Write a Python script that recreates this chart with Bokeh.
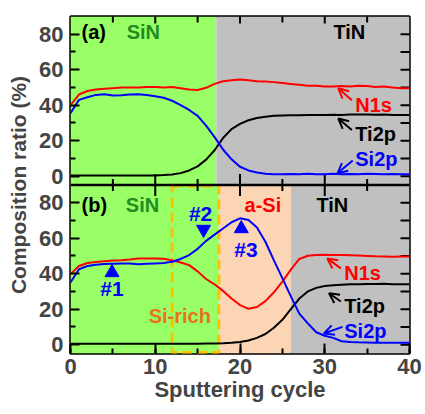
import math
from bokeh.plotting import figure
from bokeh.models import FixedTicker, SingleIntervalTicker, Range1d, Arrow, OpenHead, Span
from bokeh.core.properties import value
from bokeh.embed import file_html
from bokeh.resources import INLINE

FONT = "Liberation Sans"

# ---------------- data ----------------
cycles = list(range(41))

a_n1s = [40, 46, 48, 48.8, 49.2, 49.6, 50, 50, 50, 50.2, 50.3, 50, 50.2, 49.5, 48.8, 48.6, 49.8,
         52, 53.5, 54, 54.5, 54, 53.5, 53.3, 53, 52.5, 52, 51.5, 51, 51, 50.5, 50.5, 50.8, 50.5,
         51, 50.8, 50.2, 50.5, 50, 49.6, 49.5]
a_si2p = [35.5, 43, 44.5, 45.8, 46.2, 45.5, 45.6, 46, 46.2, 45.8, 45, 44.2, 42.5, 40, 37.3, 34,
          28.5, 22, 15, 9.5, 5.3, 3.2, 2.0, 1.4, 1.1, 1.0, 1.2, 1.0, 1.3, 1.0, 1.1, 1.3, 1.0, 1.2,
          1.1, 1.4, 1.2, 1.0, 1.2, 1.0, 1.1]
a_ti2p = [0.3, 0.3, 0.3, 0.3, 0.3, 0.3, 0.3, 0.3, 0.3, 0.3, 0.4, 0.6, 0.9, 1.7, 3.2, 5.5, 9.3,
          14.6, 21.5, 26.5, 29.5, 31.5, 32.8, 33.5, 34, 34.2, 34.3, 34.3, 34.5, 34.5, 34.5, 34.6,
          34.5, 34.8, 34.8, 34.8, 34.6, 34.7, 34.5, 34.5, 34.5]

b_n1s = [39.8, 44.3, 46, 46.6, 47, 47.4, 47.6, 48, 48.5, 48.6, 48.6, 48.4, 47.5, 46.3, 44.8,
         41.3, 37, 34, 30.3, 26, 22.3, 20.2, 21.2, 24.5, 29.5, 35.5, 42.3, 48.3, 50.1, 50.5,
         50.7, 50.6, 50.5, 50.4, 50.2, 50, 49.8, 49.7, 49.6, 49.7, 49.7]
b_si2p = [35, 42.5, 44.3, 45, 45.4, 45.6, 45.8, 45.7, 45.3, 45.6, 45.8, 46, 46.7, 48.3, 50.5,
          54, 58.5, 62, 65.5, 69, 71.2, 70.3, 66, 58, 47.5, 37.5, 27.2, 17.5, 12, 7, 5, 3.8,
          1.9, 1.5, 1.3, 1.2, 1.1, 1.1, 1.0, 1.1, 1.1]
b_ti2p = [0.5, 0.5, 0.5, 0.5, 0.5, 0.5, 0.5, 0.5, 0.5, 0.5, 0.5, 0.5, 0.5, 0.5, 0.5, 0.5, 0.6,
          0.7, 0.8, 1.0, 1.5, 2.3, 3.8, 6, 9.5, 14, 20, 26, 30, 32, 33, 33.5, 33.8, 34, 34,
          34.2, 34.2, 34.3, 34.1, 34, 34]

# region boundaries (sputtering cycle)
a_reg_left = [0, 17.2]
a_reg_right = [17.2, 40]
a_reg_color = ["#99FF66", "#C0C0C0"]
b_reg_left = [0, 17.5, 26]
b_reg_right = [17.5, 26, 40]
b_reg_color = ["#99FF66", "#FCD5B4", "#C0C0C0"]
sirich_left, sirich_right = 12, 17.5

# measurement points (panel b)
pt_up_x = [4.9, 20.15]
pt_up_y = [40.6, 65.4]
pt_dn_x = [15.7]
pt_dn_y = [65]
pt_lab = ["#1", "#2", "#3"]
pt_lab_x = [4.9, 15.35, 20.7]
pt_lab_y = [31.8, 74.0, 53.8]

# ticks
y_major = [0, 20, 40, 60, 80]
y_minor = [10, 30, 50, 70]
y_right = [0, 10, 20, 30, 40, 50, 60, 70, 80]
x_major_mid = [10, 20, 30]
x_minor_mid = [5, 15, 25, 35]

YMIN, YMAX = -5, 90
XMIN, XMAX = 0, 40
SPAN = YMAX - YMIN  # each panel spans the same y-extent

# panel (b) uses the default y range; panel (a) sits on top via an extra range
p = figure(width=425, height=414, x_range=Range1d(XMIN, XMAX),
           y_range=Range1d(YMIN, YMAX + SPAN),
           output_backend="svg", toolbar_location=None,
           min_border_left=70, min_border_right=16, min_border_top=16, min_border_bottom=61)
p.extra_y_ranges = {"a": Range1d(YMIN - SPAN, YMAX)}
p.grid.visible = False
p.outline_line_color = "black"
p.outline_line_width = 2.5
p.background_fill_color = None
p.border_fill_color = "white"

xa = p.xaxis[0]
xa.ticker = SingleIntervalTicker(interval=10, num_minor_ticks=2)
xa.major_tick_in = 10
xa.major_tick_out = 0
xa.minor_tick_in = 5
xa.minor_tick_out = 0
xa.major_tick_line_width = 2
xa.minor_tick_line_width = 2
xa.axis_line_color = None
xa.major_label_text_font = FONT
xa.major_label_text_font_style = "bold"
xa.major_label_text_font_size = "22px"
xa.major_label_standoff = 5
xa.axis_label = "Sputtering cycle"
xa.axis_label_text_font = FONT
xa.axis_label_text_font_style = "bold"
xa.axis_label_text_font_size = "22px"
xa.axis_label_standoff = 0

ya = p.yaxis[0]
ya.ticker = FixedTicker(ticks=y_major + [t + SPAN for t in y_major],
                        minor_ticks=y_minor + [t + SPAN for t in y_minor])
ya.major_label_overrides = {t + SPAN: str(t) for t in y_major}
ya.major_tick_in = 9
ya.major_tick_out = 0
ya.minor_tick_in = 5
ya.minor_tick_out = 0
ya.major_tick_line_width = 2
ya.minor_tick_line_width = 2
ya.axis_line_color = None
ya.major_label_text_font = FONT
ya.major_label_text_font_style = "bold"
ya.major_label_text_font_size = "22px"
ya.major_label_standoff = 7
ya.axis_label = "Composition ratio (%)"
ya.axis_label_text_font = FONT
ya.axis_label_text_font_style = "bold"
ya.axis_label_text_font_size = "21px"
ya.axis_label_standoff = 6

# backgrounds
p.quad(left=a_reg_left, right=a_reg_right, bottom=YMIN, top=YMAX, fill_color=a_reg_color,
       line_color=None, y_range_name="a")
p.quad(left=b_reg_left, right=b_reg_right, bottom=YMIN, top=YMAX, fill_color=b_reg_color,
       line_color=None)
p.quad(left=[sirich_left], right=[sirich_right], bottom=[-4.5], top=[89.4], fill_color=None,
       line_color="#FFC000", line_width=3, line_dash="10 5")

# tick marks on the right edge, the top edge and the panel boundary
p.scatter(x=[XMAX] * len(y_right), y=y_right, marker="dash", size=18, line_width=2,
          color="black")
p.scatter(x=[XMAX] * len(y_right), y=y_right, marker="dash", size=18, line_width=2,
          color="black", y_range_name="a")
p.scatter(x=x_major_mid, y=[YMAX] * 3, marker="dash", angle=math.pi / 2, size=14,
          line_width=2, color="black", y_range_name="a")
p.scatter(x=x_minor_mid, y=[YMAX] * 4, marker="dash", angle=math.pi / 2, size=12,
          line_width=2, color="black", y_range_name="a")
p.add_layout(Span(location=YMAX, dimension="width", line_color="black", line_width=2.5))
p.scatter(x=x_major_mid, y=[YMAX] * 3, marker="dash", angle=math.pi / 2, size=22,
          line_width=2, color="black")
p.scatter(x=x_minor_mid, y=[YMAX] * 4, marker="dash", angle=math.pi / 2, size=12,
          line_width=2, color="black")

# curves
for yr, n1s, ti2p, si2p in (("a", a_n1s, a_ti2p, a_si2p), ("default", b_n1s, b_ti2p, b_si2p)):
    p.line(cycles, n1s, line_color="#FF0000", line_width=2, y_range_name=yr)
    p.line(cycles, ti2p, line_color="black", line_width=2, y_range_name=yr)
    p.line(cycles, si2p, line_color="#0000FF", line_width=2, y_range_name=yr)

p.scatter(pt_up_x, pt_up_y, marker="triangle", size=14, color="#0000FF")
p.scatter(pt_dn_x, pt_dn_y, marker="inverted_triangle", size=14, color="#0000FF")
p.text(x=pt_lab_x, y=pt_lab_y, text=pt_lab, text_color="#0000FF", text_font=value(FONT),
       text_font_style="bold", text_font_size="21px", text_align="center",
       text_baseline="middle")


def txt(x, y, s, color, align="center", yr="default"):
    p.text(x=[x], y=[y], text=[s], text_color=color, text_font=value(FONT),
           text_font_style="bold", text_font_size="20px", text_align=align,
           text_baseline="middle", y_range_name=yr)


def arrow(x0, y0, x1, y1, color, yr="default"):
    p.add_layout(Arrow(end=OpenHead(size=10, line_color=color, line_width=2),
                       x_start=x0, y_start=y0, x_end=x1, y_end=y1,
                       line_color=color, line_width=2, y_range_name=yr))


# panel (a) annotations
txt(1.3, 81, "(a)", "black", "left", "a")
txt(8.6, 81, "SiN", "#228B22", yr="a")
txt(32.9, 81, "TiN", "black", yr="a")
txt(33.6, 40, "N1s", "#FF0000", "left", "a")
txt(33.6, 24, "Ti2p", "black", "left", "a")
txt(33.6, 9.6, "Si2p", "#0000FF", "left", "a")
arrow(33.2, 42.8, 31.6, 49.5, "#FF0000", "a")
arrow(33.2, 26.0, 31.6, 32.5, "black", "a")
arrow(33.3, 8.8, 31.5, 1.6, "#0000FF", "a")

# panel (b) annotations
txt(1.3, 79, "(b)", "black", "left")
txt(8.5, 79, "SiN", "#228B22")
txt(22.7, 79, "a-Si", "#FF0000")
txt(30.9, 79, "TiN", "black")
txt(12.9, 16, "Si-rich", "#E8731E")
txt(32.3, 40.5, "N1s", "#FF0000", "left")
txt(32.3, 21.5, "Ti2p", "black", "left")
txt(32.3, 7.5, "Si2p", "#0000FF", "left")
arrow(31.9, 43.0, 30.3, 48.6, "#FF0000")
arrow(31.9, 24.3, 30.5, 29.0, "black")
arrow(32.1, 10.0, 29.9, 6.3, "#0000FF")

open("out.html", "w").write(file_html(p, INLINE))
